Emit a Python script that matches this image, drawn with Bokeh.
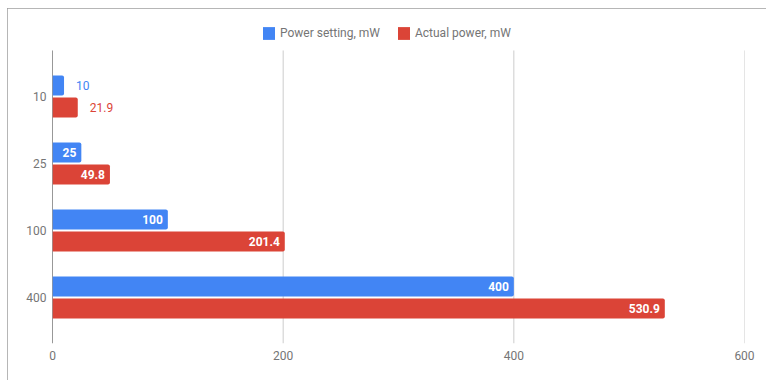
from bokeh.plotting import figure
from bokeh.models import ColumnDataSource, Range1d, FixedTicker, Legend, LegendItem, HBar
from bokeh.embed import file_html
from bokeh.resources import INLINE
from bokeh.core.properties import value

categories = ["10", "25", "100", "400"]
power_setting = [10, 25, 100, 400]
actual_power = [21.9, 49.8, 201.4, 530.9]
series_names = ["Power setting, mW", "Actual power, mW"]
x_ticks = [0, 200, 400, 600]

BLUE = "#4285F4"
RED = "#DB4437"
GRAY = "#757575"
FONT = "Roboto"

W, H = 759, 372
Y_TOP, Y_BOT = -1.209, 3.687      # view range (includes room for legend)
PLOT_TOP = -0.687                  # where grid/axis lines start
p = figure(width=W, height=H, output_backend="svg", toolbar_location=None,
           x_range=Range1d(0, 600), y_range=Range1d(Y_BOT, Y_TOP),
           min_border_left=45, min_border_right=22, min_border_top=7, min_border_bottom=37)
p.styles = {"margin-left": "7px", "margin-top": "8px",
            "outline": "1px solid #9e9e9e", "outline-offset": "-1px"}
p.outline_line_color = None
p.background_fill_color = "white"

# grid lines and vertical axis line, limited to the plotting region
grid_src = ColumnDataSource(dict(x=x_ticks[1:], y0=[Y_BOT] * 3, y1=[PLOT_TOP] * 3))
p.segment(x0="x", x1="x", y0="y0", y1="y1", source=grid_src, line_color="#cccccc", line_width=1)
p.segment(x0=[0], x1=[0], y0=[Y_BOT], y1=[PLOT_TOP], line_color="#333333", line_width=1)

px_per_unit = (744 - 52.3) / 600.0
bar_h = 0.2985
off = 0.164
extra = {}
if "border_radius" in HBar.properties():
    extra = dict(border_radius=(0, 2, 2, 0))

renderers = []
for k, (vals, col) in enumerate([(power_setting, BLUE), (actual_power, RED)]):
    ys = [i + (-off if k == 0 else off) for i in range(len(categories))]
    src = ColumnDataSource(dict(y=ys, v=vals))
    r = p.hbar(y="y", left=0, right="v", height=bar_h, source=src,
               fill_color=col, line_color=None, **extra)
    renderers.append(r)
    txt = [("%g" % v) for v in vals]
    inside = [v * px_per_unit >= len(t) * 7 + 10 for v, t in zip(vals, txt)]
    in_src = ColumnDataSource(dict(y=[y for y, f in zip(ys, inside) if f],
                                   v=[v for v, f in zip(vals, inside) if f],
                                   t=[t for t, f in zip(txt, inside) if f]))
    out_src = ColumnDataSource(dict(y=[y for y, f in zip(ys, inside) if not f],
                                    v=[v for v, f in zip(vals, inside) if not f],
                                    t=[t for t, f in zip(txt, inside) if not f]))
    p.text(x="v", y="y", text="t", source=in_src, x_offset=-5, text_align="right",
           text_baseline="middle", text_color="white", text_font=value(FONT),
           text_font_size="12px", text_font_style="bold")
    p.text(x="v", y="y", text="t", source=out_src, x_offset=12, text_align="left",
           text_baseline="middle", text_color=col, text_font=value(FONT),
           text_font_size="12px")

for ax in (p.xaxis[0], p.yaxis[0]):
    ax.axis_line_color = None
    ax.major_tick_line_color = None
    ax.minor_tick_line_color = None
    ax.major_tick_out = 0
    ax.major_tick_in = 0
    ax.minor_tick_out = 0
    ax.minor_tick_in = 0
    ax.major_label_text_color = GRAY
    ax.major_label_text_font = FONT
    ax.major_label_text_font_size = "12px"

p.xaxis.ticker = FixedTicker(ticks=x_ticks)
p.xaxis.major_label_standoff = 7
p.yaxis.ticker = FixedTicker(ticks=list(range(len(categories))))
p.yaxis.major_label_overrides = {i: c for i, c in enumerate(categories)}
p.yaxis.major_label_standoff = 6

p.xgrid.grid_line_color = None
p.ygrid.grid_line_color = None

legend = Legend(items=[LegendItem(label=series_names[0], renderers=[renderers[0]]),
                       LegendItem(label=series_names[1], renderers=[renderers[1]])],
                orientation="horizontal", location=(209, 302),
                glyph_width=15, glyph_height=16, label_height=16,
                label_text_font=FONT, label_text_baseline="middle",
                label_text_font_size="12px", label_text_color=GRAY,
                border_line_color=None, background_fill_alpha=0,
                spacing=16, label_standoff=4, padding=0, margin=0)
p.add_layout(legend, "center")

open("out.html", "w").write(file_html(p, INLINE))
